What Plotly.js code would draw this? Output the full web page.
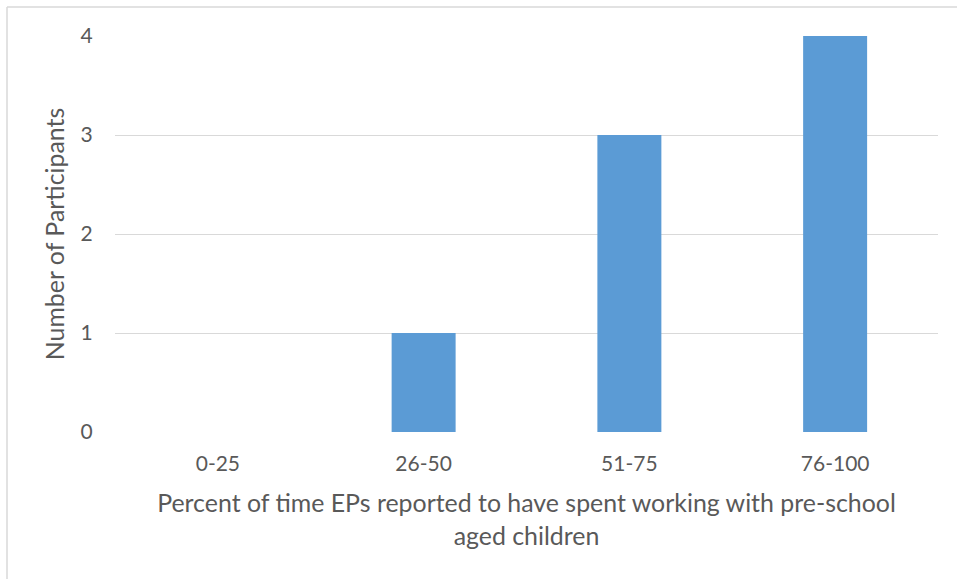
<!DOCTYPE html>
<html>
<head>
<meta charset="utf-8">
<script src="https://cdn.plot.ly/plotly-3.0.1.min.js"></script>
<style>
html,body{margin:0;padding:0;background:#fff;}
#chart{width:957px;height:579px;}
</style>
</head>
<body>
<div id="chart"></div>
<script>
const categories = ["0-25", "26-50", "51-75", "76-100"];
const participants = [0, 1, 3, 4];
const yTicks = [0, 1, 2, 3, 4];
const xTitle = "Percent of time EPs reported to have spent working with pre-school<br>aged children";
const yTitle = "Number of Participants";

const textColor = "#595959";
const fontFam = "Lato, 'Open Sans', sans-serif";

const data = [{
  type: "bar",
  x: categories,
  y: participants,
  marker: {color: "#5b9bd5"},
  hoverinfo: "x+y"
}];

const layout = {
  width: 957,
  height: 579,
  margin: {l: 115, r: 19, t: 36, b: 147, pad: 0},
  paper_bgcolor: "#ffffff",
  plot_bgcolor: "#ffffff",
  bargap: 0.689,
  showlegend: false,
  font: {family: fontFam, color: textColor, size: 21},
  xaxis: {
    type: "category",
    showgrid: false,
    showline: false,
    zeroline: false,
    ticks: "outside",
    ticklen: 13,
    tickcolor: "rgba(0,0,0,0)",
    tickfont: {family: fontFam, size: 21, color: textColor},
    title: {text: xTitle, font: {family: fontFam, size: 24.9, color: textColor}, standoff: 20},
    automargin: false
  },
  yaxis: {
    range: [0, 4],
    tickvals: yTicks,
    showgrid: true,
    gridcolor: "#d9d9d9",
    gridwidth: 1,
    zeroline: false,
    showline: false,
    ticks: "outside",
    ticklen: 17,
    tickcolor: "rgba(0,0,0,0)",
    tickfont: {family: fontFam, size: 21, color: textColor},
    title: {text: yTitle, font: {family: fontFam, size: 24.9, color: textColor}, standoff: 8},
    automargin: false
  },
  shapes: [
    {type: "line", xref: "paper", yref: "paper", x0: -108/823, x1: 1 + 30/823, y0: 1 + 29/396, y1: 1 + 29/396, line: {color: "#d9d9d9", width: 1.5}},
    {type: "line", xref: "paper", yref: "paper", x0: -108/823, x1: -108/823, y0: 1 + 29/396, y1: -160/396, line: {color: "#d9d9d9", width: 1.5}}
  ]
};

Plotly.newPlot("chart", data, layout, {displayModeBar: false, staticPlot: true});
</script>
</body>
</html>
